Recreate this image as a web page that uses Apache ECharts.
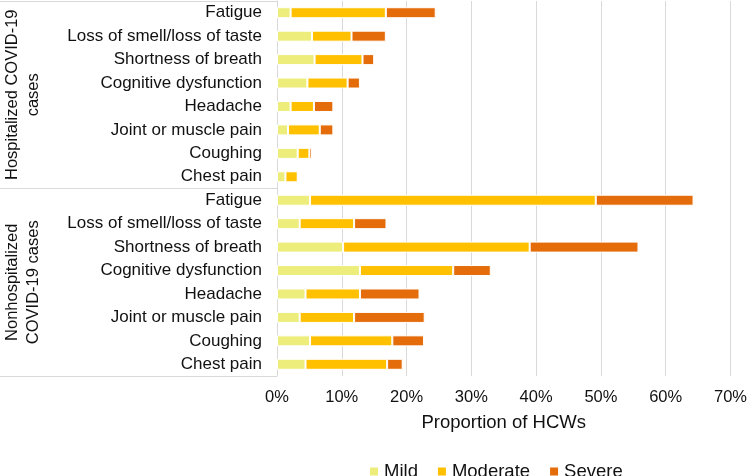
<!DOCTYPE html>
<html>
<head>
<meta charset="utf-8">
<script src="https://cdn.jsdelivr.net/npm/echarts@6/dist/echarts.min.js"></script>
<style>
html,body{margin:0;padding:0;background:#fff;}
#chart{width:750px;height:476px;}
</style>
</head>
<body>
<div id="chart"></div>
<script>
var symptoms = ['Fatigue','Loss of smell/loss of taste','Shortness of breath','Cognitive dysfunction','Headache','Joint or muscle pain','Coughing','Chest pain'];
var groups = ['Hospitalized COVID-19\ncases','Nonhospitalized\nCOVID-19 cases'];
var seriesNames = ['Mild','Moderate','Severe'];
var xTicks = [0,10,20,30,40,50,60,70];

var hospMild     = [2.1, 5.4, 5.8, 4.7, 2.1, 1.7, 3.2, 1.3];
var hospModerate = [14.7, 6.1, 7.4, 6.2, 3.6, 4.9, 1.8, 1.9];
var hospSevere   = [7.7, 5.3, 1.8, 1.9, 3.0, 2.1, 0.4, 0.2];

var nonMild      = [5.1, 3.5, 10.2, 12.8, 4.4, 3.5, 5.1, 4.4];
var nonModerate  = [44.1, 8.4, 28.8, 14.4, 8.4, 8.4, 12.7, 12.6];
var nonSevere    = [15.1, 5.0, 16.8, 5.8, 9.2, 10.9, 4.9, 2.4];

var colors = ['#EDED7C','#FFC000','#E46C0A'];
var font = "'Liberation Sans', Arial, sans-serif";
var textColor = '#111';
var gridColor = '#d9d9d9';

var categories = symptoms.concat(symptoms);
var dataSets = [hospMild.concat(nonMild), hospModerate.concat(nonModerate), hospSevere.concat(nonSevere)];

var chart = echarts.init(document.getElementById('chart'), null, {renderer:'canvas'});
chart.setOption({
  animation: false,
  backgroundColor: '#fff',
  color: colors,
  grid: {left: 277, right: 16, top: 1, bottom: 100, containLabel: false},
  legend: {
    data: seriesNames,
    left: 363, top: 457,
    icon: 'rect', itemWidth: 10, itemHeight: 10, itemGap: 18,
    textStyle: {fontFamily: font, fontSize: 18.5, color: textColor}
  },
  xAxis: {
    type: 'value', min: xTicks[0], max: xTicks[xTicks.length-1], interval: 10,
    axisLine: {show: false}, axisTick: {show: false},
    splitLine: {show: true, lineStyle: {color: gridColor, width: 1}},
    axisLabel: {formatter: '{value}%', fontFamily: font, fontSize: 16.5, color: textColor, margin: 13},
    name: 'Proportion of HCWs', nameLocation: 'middle', nameGap: 37,
    nameTextStyle: {fontFamily: font, fontSize: 18.5, color: textColor}
  },
  yAxis: [{
    type: 'category', data: categories, inverse: true,
    axisLine: {show: true, lineStyle: {color: gridColor}},
    axisTick: {show: false},
    axisLabel: {interval: 0, fontFamily: font, fontSize: 17, color: textColor, margin: 15}
  }, {
    type: 'category', data: groups, inverse: true, position: 'left',
    axisLine: {show: false},
    axisTick: {show: true, interval: 0, length: 277, lineStyle: {color: gridColor}},
    axisLabel: {interval: 0, hideOverlap: false, rotate: 90, fontFamily: font, fontSize: 16.5, color: textColor, margin: 233, lineHeight: 21, align: 'center'},
    splitLine: {show: false}
  }],
  series: seriesNames.map(function(n, i){
    return {
      name: n, type: 'bar', stack: 'total', yAxisIndex: 0,
      barWidth: 11,
      itemStyle: {color: colors[i], borderColor: '#fff', borderWidth: 1},
      data: dataSets[i]
    };
  })
});
</script>
</body>
</html>
